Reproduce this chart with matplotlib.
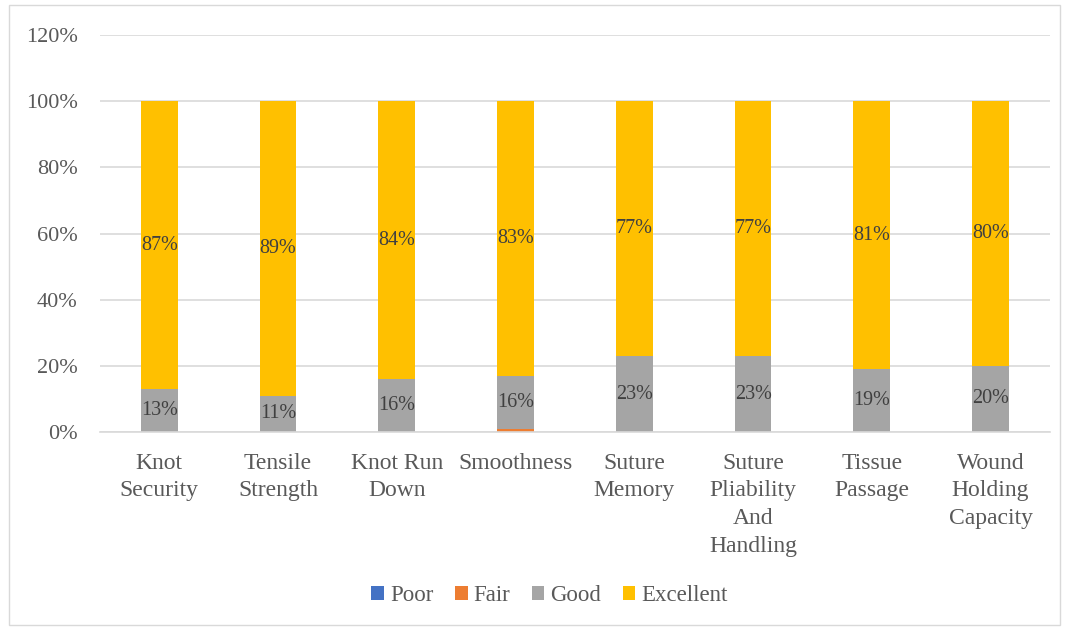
import matplotlib
matplotlib.use("Agg")
import matplotlib.pyplot as plt
from matplotlib.patches import Rectangle
import numpy as np

categories = ["Knot\nSecurity", "Tensile\nStrength", "Knot Run\nDown", "Smoothness",
              "Suture\nMemory", "Suture\nPliability\nAnd\nHandling", "Tissue\nPassage",
              "Wound\nHolding\nCapacity"]
poor = [0, 0, 0, 0, 0, 0, 0, 0]
fair = [0, 0, 0, 1, 0, 0, 0, 0]
good = [13, 11, 16, 16, 23, 23, 19, 20]
excellent = [87, 89, 84, 83, 77, 77, 81, 80]
yticks = [0, 20, 40, 60, 80, 100, 120]

plt.rcParams['font.family'] = ['Liberation Serif', 'DejaVu Serif']
txt = '#595959'

fig = plt.figure(figsize=(10.67, 6.28), dpi=100)
ax = fig.add_axes([0.0937, 0.312, 0.8903, 0.632])

x = np.arange(len(categories))
w = 0.31
series = [("Poor", poor, '#4472C4'), ("Fair", fair, '#ED7D31'),
          ("Good", good, '#A5A5A5'), ("Excellent", excellent, '#FFC000')]
bottom = np.zeros(len(categories))
for name, vals, col in series:
    vals = np.array(vals, dtype=float)
    ax.bar(x, vals, w, bottom=bottom, color=col, label=name, zorder=2)
    if name in ("Good", "Excellent"):
        for xi, b, v in zip(x, bottom, vals):
            if v > 0:
                ax.text(xi, b + v / 2, f"{int(v)}%", ha='center', va='center',
                        fontsize=14.5, color='#404040', zorder=3)
    bottom += vals

ax.set_xlim(-0.5, len(categories) - 0.5)
ax.set_ylim(0, 120)
ax.set_yticks(yticks)
ax.set_yticklabels([f"{v}%" for v in yticks], fontsize=16, color=txt)
ax.set_xticks(x)
ax.set_xticklabels(categories, fontsize=17, color=txt, linespacing=1.41, va='top')
ax.tick_params(axis='both', length=0)
ax.tick_params(axis='y', pad=16)
ax.tick_params(axis='x', pad=15)
ax.yaxis.grid(True, color='#d9d9d9', linewidth=1.2, zorder=0)
ax.set_axisbelow(True)
for s in ['top', 'right', 'left']:
    ax.spines[s].set_visible(False)
ax.spines['bottom'].set_color('#d9d9d9')
ax.spines['bottom'].set_linewidth(1.2)

handles, labels = ax.get_legend_handles_labels()
fig.legend(handles, labels, loc='center', bbox_to_anchor=(0.515, 0.052), ncol=4,
           frameon=False, fontsize=16.5, handlelength=0.55, handleheight=0.55,
           handletextpad=0.25, columnspacing=0.95, labelcolor=txt)

fig.patches.append(Rectangle((0.008, 0.005), 0.985, 0.987, transform=fig.transFigure,
                             fill=False, edgecolor='#d9d9d9', linewidth=1.0))

fig.savefig("out.png", dpi=100)
